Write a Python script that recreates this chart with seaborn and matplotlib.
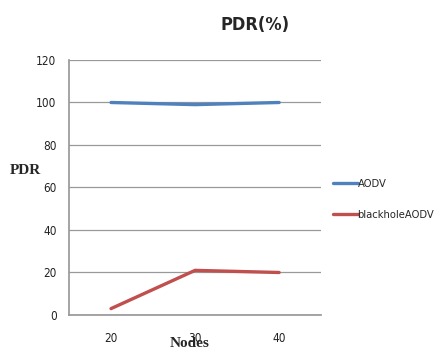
import matplotlib
matplotlib.use("Agg")
import matplotlib.pyplot as plt
import seaborn as sns
import pandas as pd

nodes = ["20", "30", "40"]
aodv = [100, 99, 100]
blackhole = [3, 21, 20]
series_names = ["AODV", "blackholeAODV"]
colors = ["#4F81BD", "#C0504D"]
yticks = [0, 20, 40, 60, 80, 100, 120]

sns.set_theme(style="white")
plt.rcParams['font.family'] = ['DejaVu Sans']
plt.rcParams['font.stretch'] = 'condensed'

df = pd.DataFrame({
    "Nodes": nodes * 2,
    "PDR": aodv + blackhole,
    "series": [series_names[0]] * 3 + [series_names[1]] * 3,
})

fig = plt.figure(figsize=(4.34, 3.55), dpi=100)
ax = fig.add_axes([0.159, 0.1127, 0.581, 0.7183])
sns.lineplot(data=df, x="Nodes", y="PDR", hue="series", palette=colors,
             linewidth=2.4, ax=ax, sort=False)

ax.set_xlim(-0.5, 2.5)
ax.set_ylim(0, 120)
ax.set_yticks(yticks)
ax.yaxis.grid(True, color="#999999", linewidth=0.9)
ax.xaxis.grid(False)
for s in ["top", "right"]:
    ax.spines[s].set_visible(False)
ax.spines["left"].set_color("#999999")
ax.spines["bottom"].set_color("#999999")
ax.tick_params(axis="both", labelsize=8.5, colors="#222222", length=0, pad=9)
ax.tick_params(axis="x", pad=12)

ax.set_xlabel("")
ax.set_ylabel("")
fig.text(0.437, 0.033, "Nodes", family="Liberation Serif", fontweight="bold",
         fontsize=11, ha="center", va="center")
fig.text(0.058, 0.52, "PDR", family="Liberation Serif", fontweight="bold",
         fontsize=11, ha="center", va="center")
fig.text(0.587, 0.93, "PDR(%)", fontweight="bold", fontsize=13,
         ha="center", va="center")

ax.legend(loc="upper left", bbox_to_anchor=(1.03, 0.55), frameon=False,
          fontsize=8, handlelength=2.2, handletextpad=0.0, labelspacing=1.9,
          borderaxespad=0)

fig.savefig("out.png", dpi=100)
